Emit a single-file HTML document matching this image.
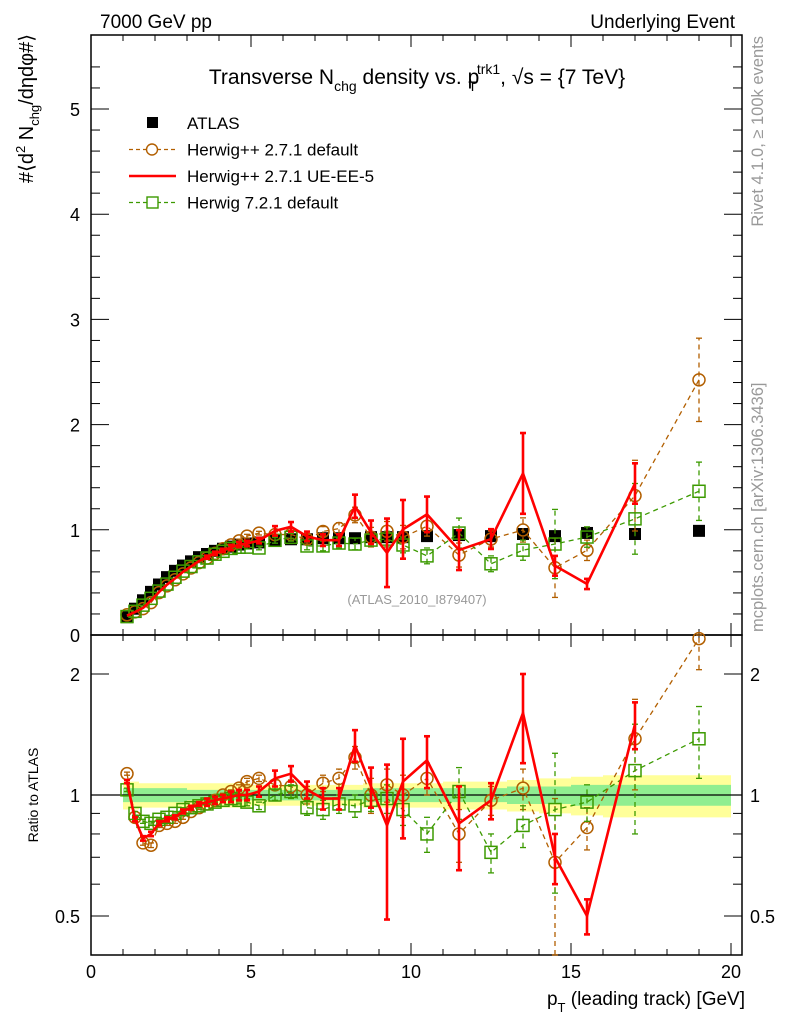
<!DOCTYPE html>
<html><head><meta charset="utf-8"><style>
body{margin:0;background:#fff;}
svg{display:block;font-family:"Liberation Sans",sans-serif;}
</style></head><body>
<svg id="c" width="786" height="1024" viewBox="0 0 786 1024" xmlns="http://www.w3.org/2000/svg">
<text x="100" y="28" font-size="19">7000 GeV pp</text>
<text x="735" y="28" font-size="19" text-anchor="end">Underlying Event</text>
<text x="417" y="84" font-size="21" text-anchor="middle">Transverse N<tspan font-size="14" dy="7">chg</tspan><tspan dy="-7"> density vs. p</tspan><tspan font-size="14" dy="7" dx="-11">T</tspan><tspan font-size="14" dy="-17">trk1</tspan><tspan dy="10">, √s = {7 TeV}</tspan></text>
<text transform="translate(33,34) rotate(-90)" font-size="20" text-anchor="end">#⟨d<tspan font-size="13" dy="-8">2</tspan><tspan dy="8"> N</tspan><tspan font-size="13" dy="6">chg</tspan><tspan dy="-6">/dηdφ#⟩</tspan></text>
<text transform="translate(38,795) rotate(-90)" font-size="14" text-anchor="middle">Ratio to ATLAS</text>
<text x="745" y="1005" font-size="19" text-anchor="end">p<tspan font-size="13" dy="7">T</tspan><tspan dy="-7"> (leading track) [GeV]</tspan></text>
<text transform="translate(763,36) rotate(-90)" font-size="16.5" fill="#999" text-anchor="end">Rivet 4.1.0, ≥ 100k events</text>
<text transform="translate(763,632) rotate(-90)" font-size="16.5" fill="#999" text-anchor="start">mcplots.cern.ch [arXiv:1306.3436]</text>
<text x="417" y="604" font-size="13" fill="#999" text-anchor="middle">(ATLAS_2010_I879407)</text>
<g id="bands"></g>
<g id="axes"></g>
<g id="series"></g>
<g id="legend"></g>
</svg>
<script>
const xVals=[1.125,1.375,1.625,1.875,2.125,2.375,2.625,2.875,3.125,3.375,3.625,3.875,4.125,4.375,4.625,4.875,5.25,5.75,6.25,6.75,7.25,7.75,8.25,8.75,9.25,9.75,10.5,11.5,12.5,13.5,14.5,15.5,17,19];
const atlasVals=[0.17,0.25,0.33,0.41,0.48,0.55,0.61,0.66,0.70,0.74,0.77,0.80,0.82,0.84,0.86,0.87,0.88,0.90,0.91,0.91,0.92,0.92,0.92,0.93,0.93,0.93,0.94,0.95,0.94,0.96,0.94,0.97,0.96,0.99];
const bandYellow=[0.08,0.08,0.07,0.07,0.07,0.07,0.07,0.07,0.07,0.07,0.07,0.07,0.07,0.07,0.07,0.07,0.06,0.06,0.06,0.06,0.06,0.06,0.06,0.07,0.07,0.07,0.07,0.08,0.08,0.09,0.10,0.11,0.12,0.12];
const bandGreen=[0.04,0.04,0.04,0.04,0.04,0.04,0.04,0.04,0.03,0.03,0.03,0.03,0.03,0.03,0.03,0.03,0.03,0.03,0.03,0.03,0.03,0.03,0.03,0.04,0.04,0.04,0.04,0.04,0.04,0.05,0.05,0.06,0.06,0.06];
const herwigDefRatio=[1.13,0.88,0.76,0.75,0.84,0.85,0.86,0.88,0.91,0.93,0.95,0.97,1.0,1.02,1.04,1.08,1.1,1.06,1.05,1.0,1.07,1.1,1.24,1.0,1.06,1.0,1.1,0.8,0.97,1.04,0.68,0.83,1.38,2.45];
const herwigDefErr=[0.01,0.01,0.01,0.01,0.01,0.01,0.01,0.01,0.01,0.01,0.01,0.01,0.01,0.01,0.02,0.02,0.02,0.03,0.04,0.05,0.05,0.06,0.08,0.1,0.1,0.12,0.1,0.12,0.08,0.12,0.3,0.1,0.35,0.4];
const ueRatio=[1.08,0.87,0.78,0.8,0.85,0.87,0.88,0.91,0.93,0.95,0.96,0.97,0.98,0.99,1.0,1.0,1.02,1.1,1.13,1.03,0.98,0.98,1.33,1.05,0.84,1.08,1.22,0.85,0.97,1.6,0.7,0.5,1.5,null];
const ueErr=[0.01,0.01,0.01,0.01,0.01,0.01,0.01,0.01,0.01,0.01,0.02,0.02,0.02,0.03,0.03,0.03,0.03,0.05,0.05,0.05,0.06,0.06,0.12,0.12,0.35,0.3,0.18,0.2,0.1,0.4,0.1,0.05,0.2,0];
const h7Ratio=[1.03,0.9,0.86,0.85,0.87,0.88,0.9,0.92,0.93,0.94,0.95,0.96,0.97,0.98,0.97,0.96,0.94,1.0,1.02,0.93,0.92,0.95,0.94,0.97,0.98,0.92,0.8,1.02,0.72,0.84,0.92,0.96,1.15,1.38];
const h7Err=[0.01,0.01,0.01,0.01,0.01,0.01,0.01,0.01,0.01,0.01,0.01,0.01,0.01,0.01,0.02,0.02,0.02,0.03,0.04,0.04,0.05,0.05,0.06,0.06,0.08,0.08,0.08,0.15,0.08,0.1,0.35,0.1,0.35,0.28];
const xTicks=[0,5,10,15,20];
const yTicks=[0,1,2,3,4,5];
const rTicks=[0.5,1,2];

const NS='http://www.w3.org/2000/svg';
const L=91,R=742,T=35,MB=635,RB=955;
const X=v=>L+v*32;
const Y=v=>MB-v*105.2;
const RY=r=>795-Math.log2(r)*121;
function mk(tag,at,par){const e=document.createElementNS(NS,tag);for(const k in at)e.setAttribute(k,at[k]);document.getElementById(par).appendChild(e);return e;}

{let up=[],dn=[],ug=[],dg=[];
xVals.forEach((x,i)=>{const hw=i<16?0.125:(i<26?0.25:(i<32?0.5:1));const xa=X(x-hw),xb=X(x+hw);
up.push(xa+','+RY(1+bandYellow[i]),xb+','+RY(1+bandYellow[i]));dn.unshift(xb+','+RY(1-bandYellow[i]),xa+','+RY(1-bandYellow[i]));
ug.push(xa+','+RY(1+bandGreen[i]),xb+','+RY(1+bandGreen[i]));dg.unshift(xb+','+RY(1-bandGreen[i]),xa+','+RY(1-bandGreen[i]));});
const b1=mk('polygon',{points:up.concat(dn).join(' '),fill:'#ffff99'},'bands');


const b2=mk('polygon',{points:ug.concat(dg).join(' '),fill:'#90ee90'},'bands');

}

mk('rect',{x:L,y:T,width:R-L,height:MB-T,fill:'none',stroke:'#000','stroke-width':1.5},'axes');
mk('rect',{x:L,y:MB,width:R-L,height:RB-MB,fill:'none',stroke:'#000','stroke-width':1.5},'axes');
mk('line',{x1:L,x2:R,y1:RY(1),y2:RY(1),stroke:'#000','stroke-width':1.2},'axes');
for(let v=0;v<=20;v++){const big=v%5===0,h=big?12:6;
[MB,RB].forEach(b=>{mk('line',{x1:X(v),x2:X(v),y1:b,y2:b-h,stroke:'#000'},'axes');mk('line',{x1:X(v),x2:X(v),y1:b===MB?T:MB,y2:(b===MB?T:MB)+h,stroke:'#000'},'axes');});}
xTicks.forEach(v=>{const t=mk('text',{x:X(v),y:978,'font-size':18,'text-anchor':'middle'},'axes');t.textContent=v;

});
for(let v=0;v<=5.6;v+=0.2){const big=Math.abs(v-Math.round(v))<1e-6,h=big?18:9;
mk('line',{x1:L,x2:L+h,y1:Y(v),y2:Y(v),stroke:'#000'},'axes');mk('line',{x1:R,x2:R-h,y1:Y(v),y2:Y(v),stroke:'#000'},'axes');}
yTicks.forEach(v=>{const t=mk('text',{x:80,y:Y(v)+7,'font-size':18,'text-anchor':'end'},'axes');t.textContent=v;

});
[0.5,0.6,0.7,0.8,0.9,1,2].forEach(v=>{const big=rTicks.includes(v),h=big?18:9;
mk('line',{x1:L,x2:L+h,y1:RY(v),y2:RY(v),stroke:'#000'},'axes');mk('line',{x1:R,x2:R-h,y1:RY(v),y2:RY(v),stroke:'#000'},'axes');});
rTicks.forEach(v=>{[[80,'end'],[750,'start']].forEach(([x,a])=>{const t=mk('text',{x:x,y:RY(v)+7,'font-size':18,'text-anchor':a},'axes');t.textContent=v;

});});

function series(ratio,err,color,dash,marker,name,width){
  const g=mk('g',{},'series');
  
  
  const gid=g; let pm=[],pr=[];
  xVals.forEach((x,i)=>{if(ratio[i]==null)return;const v=ratio[i]*atlasVals[i];pm.push(X(x)+','+Y(v));pr.push(X(x)+','+RY(Math.max(ratio[i],0.4)));});
  const add=(tag,at)=>{const e=document.createElementNS(NS,tag);for(const k in at)e.setAttribute(k,at[k]);gid.appendChild(e);return e;};
  const sty={fill:'none',stroke:color,'stroke-width':width};if(dash)sty['stroke-dasharray']=dash;
  add('polyline',Object.assign({points:pm.join(' ')},sty));
  add('polyline',Object.assign({points:pr.join(' ')},sty));
  xVals.forEach((x,i)=>{if(ratio[i]==null)return;const v=ratio[i]*atlasVals[i],e=err[i]*atlasVals[i];
    const cx=X(x);
    [[Y(v-e),Y(v+e)],[RY(Math.max(ratio[i]-err[i],0.4)),RY(Math.min(ratio[i]+err[i],2.5))]].forEach(([a,b])=>{
      if(Math.abs(a-b)>3){add('line',Object.assign({x1:cx,x2:cx,y1:a,y2:b},sty));
      add('line',{x1:cx-3,x2:cx+3,y1:a,y2:a,stroke:color,'stroke-width':width});add('line',{x1:cx-3,x2:cx+3,y1:b,y2:b,stroke:color,'stroke-width':width});}});
    [Y(v),RY(Math.min(Math.max(ratio[i],0.4),2.45))].forEach(cy=>{
      if(marker==='circle')add('circle',{cx:cx,cy:cy,r:6,fill:'none',stroke:color,'stroke-width':1.5});
      else if(marker==='square')add('rect',{x:cx-6,y:cy-6,width:12,height:12,fill:'none',stroke:color,'stroke-width':1.5});});
  });
}
{const g=mk('g',{},'series');


xVals.forEach((x,i)=>{const e=document.createElementNS(NS,'rect');e.setAttribute('x',X(x)-6);e.setAttribute('y',Y(atlasVals[i])-6);e.setAttribute('width',12);e.setAttribute('height',12);e.setAttribute('fill','#000');g.appendChild(e);});}
series(herwigDefRatio,herwigDefErr,'#b25f00','5,4','circle','herwigpp-default-series',1.3);
series(h7Ratio,h7Err,'#3c9a00','5,4','square','herwig7-default-series',1.3);
series(ueRatio,ueErr,'#ff0000',null,null,'herwigpp-ue-ee-5-series',2.6);

const leg=[['ATLAS',null,'#000','sq'],['Herwig++ 2.7.1 default','4,3','#b25f00','circle'],['Herwig++ 2.7.1 UE-EE-5',null,'#ff0000','line'],['Herwig 7.2.1 default','4,3','#3c9a00','square']];
leg.forEach((l,i)=>{const y=123+i*26.5;
  const g=mk('g',{},'legend');
  
  
  const add=(tag,at)=>{const e=document.createElementNS(NS,tag);for(const k in at)e.setAttribute(k,at[k]);g.appendChild(e);return e;};
  if(l[3]==='sq')add('rect',{x:147,y:y-6,width:11,height:11,fill:'#000'});
  else{const at={x1:129,x2:176,y1:y,y2:y,stroke:l[2],'stroke-width':l[3]==='line'?2.5:1.3};if(l[1])at['stroke-dasharray']=l[1];add('line',at);
    if(l[3]==='circle')add('circle',{cx:152,cy:y,r:5.5,fill:'#fff',stroke:l[2],'stroke-width':1.4});
    if(l[3]==='square')add('rect',{x:147,y:y-5.5,width:11,height:11,fill:'#fff',stroke:l[2],'stroke-width':1.4});}
  const t=add('text',{x:187,y:y+6,'font-size':17});t.textContent=l[0];
});
</script>
</body></html>
